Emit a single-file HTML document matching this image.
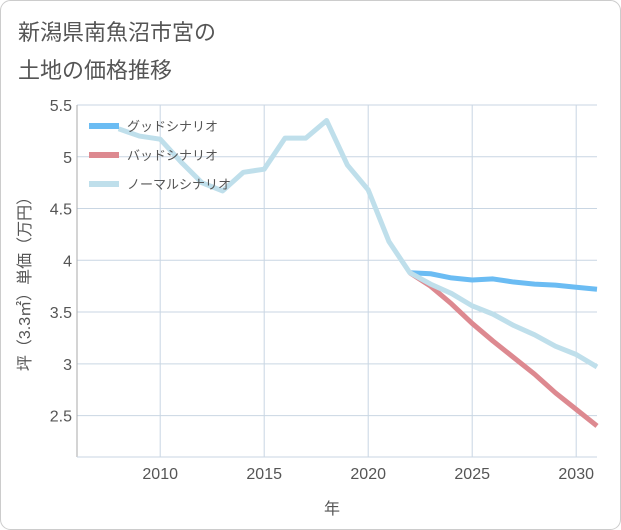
<!DOCTYPE html>
<html><head><meta charset="utf-8"><style>
body{margin:0;background:#fff;}
svg{display:block;font-family:"Liberation Sans","Noto Sans CJK JP",sans-serif;}
</style></head><body>
<svg id="chart" width="621" height="530">
<rect x="0.5" y="0.5" width="620" height="529" rx="10" fill="#fff" stroke="#ccc"/>
<text x="18" y="40" font-size="22" fill="#555">新潟県南魚沼市宮の</text>
<text x="18" y="78" font-size="22" fill="#555">土地の価格推移</text>
<g id="grid"></g><g id="series"></g><g id="legend"></g>
<text x="332" y="514" font-size="16" fill="#555" text-anchor="middle">年</text>
<text transform="translate(30,280) rotate(-90)" font-size="16" fill="#555" text-anchor="middle">坪（3.3㎡）単価（万円）</text>
</svg>
<script>
const years=[2008,2009,2010,2011,2012,2013,2014,2015,2016,2017,2018,2019,2020,2021,2022,2023,2024,2025,2026,2027,2028,2029,2030,2031];
const normal=[5.27,5.2,5.17,4.95,4.75,4.67,4.85,4.88,5.18,5.18,5.35,4.92,4.68,4.18,3.88,3.77,3.68,3.56,3.48,3.37,3.28,3.17,3.09,2.97];
const goodYears=[2022,2023,2024,2025,2026,2027,2028,2029,2030,2031];
const good=[3.88,3.87,3.83,3.81,3.82,3.79,3.77,3.76,3.74,3.72];
const bad=[3.88,3.75,3.58,3.39,3.22,3.06,2.90,2.72,2.56,2.40];
const xTicks=[2010,2015,2020,2025,2030];
const yTicks=[2.5,3,3.5,4,4.5,5,5.5];
const legendLabels=["グッドシナリオ","バッドシナリオ","ノーマルシナリオ"];
const L=77,R=597,T=105,B=457;
const xs=y=>L+(y-2006)*(R-L)/25;
const ys=v=>T+(5.5-v)*(B-T)/3.4;
const NS="http://www.w3.org/2000/svg";
function mk(tag,attrs,parent){const e=document.createElementNS(NS,tag);for(const k in attrs)e.setAttribute(k,attrs[k]);parent.appendChild(e);return e;}
const grid=document.getElementById('grid');
const ser=document.getElementById('series');
const leg=document.getElementById('legend');
yTicks.forEach(v=>{
 const l=mk('line',{x1:L,x2:R,y1:ys(v),y2:ys(v),stroke:'#c9d6e3','stroke-width':1},grid);
 
 
 const t=mk('text',{x:L-5,y:ys(v)+6,'font-size':16,fill:'#555','text-anchor':'end'},grid);
 t.textContent=v;
 
 
});
xTicks.forEach(v=>{
 const l=mk('line',{x1:xs(v),x2:xs(v),y1:T,y2:B,stroke:'#c9d6e3','stroke-width':1},grid);
 
 
 const t=mk('text',{x:xs(v),y:B+22,'font-size':16,fill:'#555','text-anchor':'middle'},grid);
 t.textContent=v;
 
 
});
const ax=mk('line',{x1:L,x2:L,y1:T,y2:B,stroke:'#aaa'},grid);


const bx=mk('line',{x1:L,x2:R,y1:B,y2:B,stroke:'#c9d6e3'},grid);


function line(xv,yv,color,name){
 const p=mk('polyline',{points:xv.map((y,i)=>xs(y)+','+ys(yv[i])).join(' '),fill:'none',stroke:color,'stroke-width':5,'stroke-linejoin':'round'},ser);
 
 
}
line(goodYears,good,'#6bbcf3','good-scenario-line');
line(goodYears,bad,'#dd8990','bad-scenario-line');
line(years,normal,'#bfdfeb','normal-scenario-line');
const colors=['#6bbcf3','#dd8990','#bfdfeb'];
legendLabels.forEach((s,i)=>{
 const y=126+i*29;
 const r=mk('rect',{x:89,y:y-3,width:30,height:6,fill:colors[i]},leg);
 
 
 const t=mk('text',{x:127,y:y+5,'font-size':13,fill:'#555'},leg);
 t.textContent=s;
 
 
});
</script>
</body></html>
